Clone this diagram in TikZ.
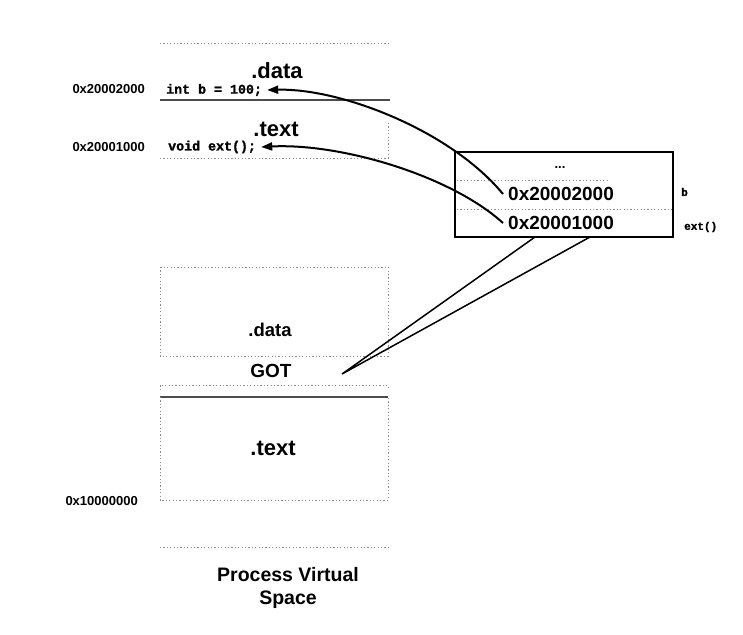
\documentclass[tikz,border=0pt]{standalone}
\usepackage{fontspec}
\setmainfont{Liberation Sans}
\newfontfamily\codefont[BoldFeatures={FakeBold=1.5}]{Liberation Mono}
\usetikzlibrary{arrows.meta}
\begin{document}
\begin{tikzpicture}[x=1pt,y=-1pt,
  dotline/.style={draw=black!45,line width=0.8pt,dash pattern=on 1.2pt off 2.2pt},
  solidline/.style={draw=black!70,line width=1.1pt},
  seclabel/.style={font=\bfseries\fontsize{#1}{#1}\selectfont,inner sep=0pt},
  codelabel/.style={font=\codefont\bfseries\fontsize{#1}{#1}\selectfont,inner sep=0pt},
  addrlabel/.style={font=\bfseries\fontsize{13}{13}\selectfont,inner sep=0pt},
  ptr/.style={line width=2pt,-{Triangle[length=11pt,width=8pt]}},
  thin/.style={line width=1.5pt}]
\useasboundingbox (0,0) rectangle (743,634);

% upper module: .data and .text of the shared object
\draw[dotline] (160,43) -- (390,43);
\node[seclabel=22] (datatop) at (277,71) {.data};
\node[codelabel=13.3,anchor=west] (intb) at (166,90) {int b = 100;};
\draw[solidline] (160,100) -- (390,100);
\node[seclabel=22] (texttop) at (276,129) {.text};
\node[codelabel=13.3,anchor=west] (voidext) at (168,147) {void ext();};
\draw[dotline] (388,123) -- (388,158) -- (160,158);
\node[addrlabel,anchor=east] (addrA) at (145,89) {0x20002000};
\node[addrlabel,anchor=east] (addrB) at (145,147) {0x20001000};

% GOT entries
\node[draw,line width=1.3pt,minimum width=218pt,minimum height=85pt,inner sep=0pt] (gotbox) at (564,194.5) {};
\draw[dotline] (457,180) -- (608,180);
\draw[dotline] (457,209) -- (672,209);
\node[seclabel=13] (dots) at (560,168) {...};
\node[seclabel=19,anchor=west] (v1) at (508,194) {0x20002000};
\node[seclabel=19,anchor=west] (v2) at (508,223) {0x20001000};
\node[codelabel=11,anchor=west] (lblb) at (681,192) {b};
\node[codelabel=11,anchor=west] (lblext) at (684,227) {ext()};

% pointers from the GOT to the referenced symbols
\draw[ptr] ([xshift=-5pt]v1.west) .. controls (450,130) and (340,88) .. ([xshift=5pt]intb.east);
\draw[ptr] ([xshift=-5pt]v2.west) .. controls (450,175) and (340,143) .. ([xshift=5pt]voidext.east);

% lower module: .data with GOT, and .text
\draw[dotline] (160,267) rectangle (388,356);
\node[seclabel=18.5] (datalow) at (270,330) {.data};
\node[seclabel=19] (got) at (271,371) {GOT};
\coordinate (gottip) at (342,374);
\coordinate (gA) at (535,237);
\coordinate (gB) at (590,237);
\draw[thin] (gA) -- (gottip) -- (gB);
\draw[dotline] (160,390) -- (160,385) -- (388,385) -- (388,390);
\draw[solidline] (160,397) -- (388,397);
\draw[dotline] (160,397) -- (160,500) -- (388,500) -- (388,397);
\node[seclabel=22] (textlow) at (273,448) {.text};
\node[addrlabel,anchor=east] (addrC) at (138,501) {0x10000000};
\draw[dotline] (160,547) -- (390,547);

\node[align=center,inner sep=0pt,font=\bfseries\fontsize{19.5}{23}\selectfont] (title) at (288,588) {Process Virtual\\Space};
\end{tikzpicture}
\end{document}
